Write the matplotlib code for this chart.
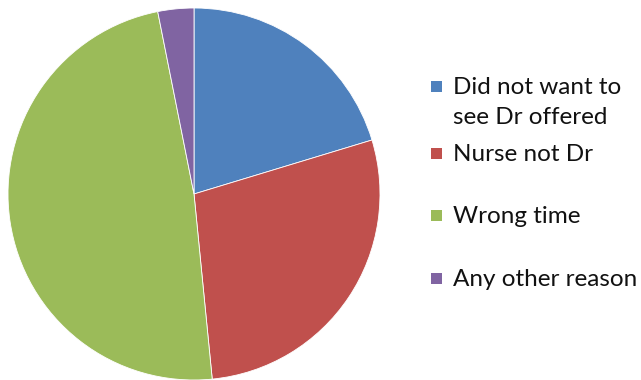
import matplotlib
matplotlib.use("Agg")
import matplotlib.pyplot as plt
from matplotlib.patches import Rectangle

categories = ["Did not want to\nsee Dr offered", "Nurse not Dr", "Wrong time", "Any other reason"]
counts = [13, 18, 31, 2]
colors = ["#4F81BD", "#C0504D", "#9BBB59", "#8064A2"]

W, H = 641, 380
fig = plt.figure(figsize=(W / 100, H / 100), dpi=100)
fig.patch.set_facecolor("white")

# pie axes: centre (194,194) px, radius 186 px
cx, cy, r = 194, 194, 186
ax = fig.add_axes([(cx - r) / W, (H - cy - r) / H, 2 * r / W, 2 * r / H])
ax.pie(counts, colors=colors, startangle=90, counterclock=False, radius=1,
       wedgeprops=dict(edgecolor="white", linewidth=0.6))
ax.set_xlim(-1, 1)
ax.set_ylim(-1, 1)
ax.set_aspect("auto")
ax.axis("off")

# legend entries drawn manually; wrapped labels get one text per line
marker_y = [86, 153, 215, 278]
line_gap = 30
for label, col, my in zip(categories, colors, marker_y):
    fig.patches.append(Rectangle((431 / W, (H - my - 5.5) / H), 11 / W, 11 / H,
                                 transform=fig.transFigure, facecolor=col,
                                 edgecolor="none"))
    for i, line in enumerate(label.split("\n")):
        fig.text(453 / W, (H - my - 8 - i * line_gap) / H, line, fontsize=17.5,
                 family="Lato", color="#111111", va="baseline", ha="left")

fig.savefig("out.png", dpi=100)
